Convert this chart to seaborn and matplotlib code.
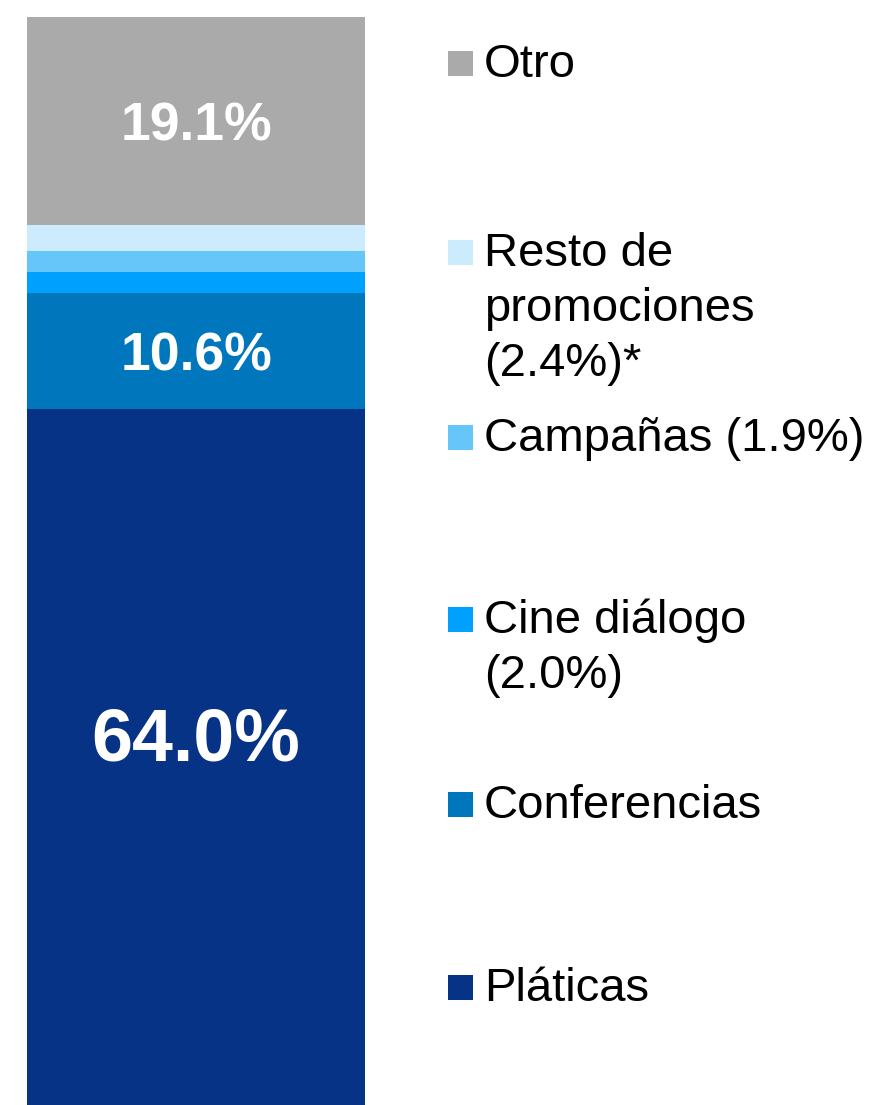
"""
Stacked bar: distribución de actividades
"""
import matplotlib
matplotlib.use('Agg')
import matplotlib.pyplot as plt
import seaborn as sns
import numpy as np

# Data (bottom to top)
categories = ['Pláticas', 'Conferencias', 'Cine diálogo', 'Campañas',
              'Resto de promociones', 'Otro']
values = [64.0, 10.6, 2.0, 1.9, 2.4, 19.1]
legend_labels = ['Pláticas', 'Conferencias', 'Cine diálogo\n(2.0%)',
                 'Campañas (1.9%)', 'Resto de\npromociones\n(2.4%)*', 'Otro']
bar_labels = ['64.0%', '10.6%', '', '', '', '19.1%']
colors = ['#063385', '#0077BD', '#00A0FF', '#66C6FA', '#CCEBFD', '#AAAAAA']

sns.set_theme(style='white')
plt.rcParams['font.family'] = ['Liberation Sans', 'DejaVu Sans']

W, H = 872, 1105
fig = plt.figure(figsize=(W / 100, H / 100), dpi=100)
ax = fig.add_axes([27 / W, 0, 338 / W, 1088 / H])

tops = np.cumsum(values)
bottoms = tops - np.array(values)

# draw cumulative bars from tallest down so they stack visually
for i in range(len(values) - 1, -1, -1):
    sns.barplot(x=['bar'], y=[tops[i]], color=colors[i], saturation=1,
                width=1, linewidth=0, ax=ax)

ax.set_xlim(-0.5, 0.5)
ax.set_ylim(0, 100)
ax.axis('off')

# labels inside the bar (cap height centred on the segment)
label_sizes = [53, 38.5, 0, 0, 0, 38.5]
label_dy = [16, 0, 0, 0, 0, 0]  # extra upward shift in points
for i, lab in enumerate(bar_labels):
    if lab:
        fs = label_sizes[i]
        ax.annotate(lab, xy=(0, (bottoms[i] + tops[i]) / 2),
                    xytext=(0, -0.716 * fs / 2 + label_dy[i]),
                    textcoords='offset points', ha='center', va='baseline',
                    color='white', fontsize=fs, fontweight='bold')

# manual legend on the right (baseline of first line, in pixels from top)
legend_baselines = [1001, 818, 633, 451, 266, 77]
line_gap = 55
for i, lab in enumerate(legend_labels):
    yb = legend_baselines[i]
    fig.patches.append(plt.Rectangle((448 / W, 1 - (yb - 1) / H), 25 / W, 25 / H,
                                     transform=fig.transFigure, color=colors[i],
                                     linewidth=0))
    for j, line in enumerate(lab.split('\n')):
        fig.text(484 / W, 1 - (yb + j * line_gap) / H, line, ha='left',
                 va='baseline', fontsize=34, color='black')

fig.savefig('out.png', dpi=100)
